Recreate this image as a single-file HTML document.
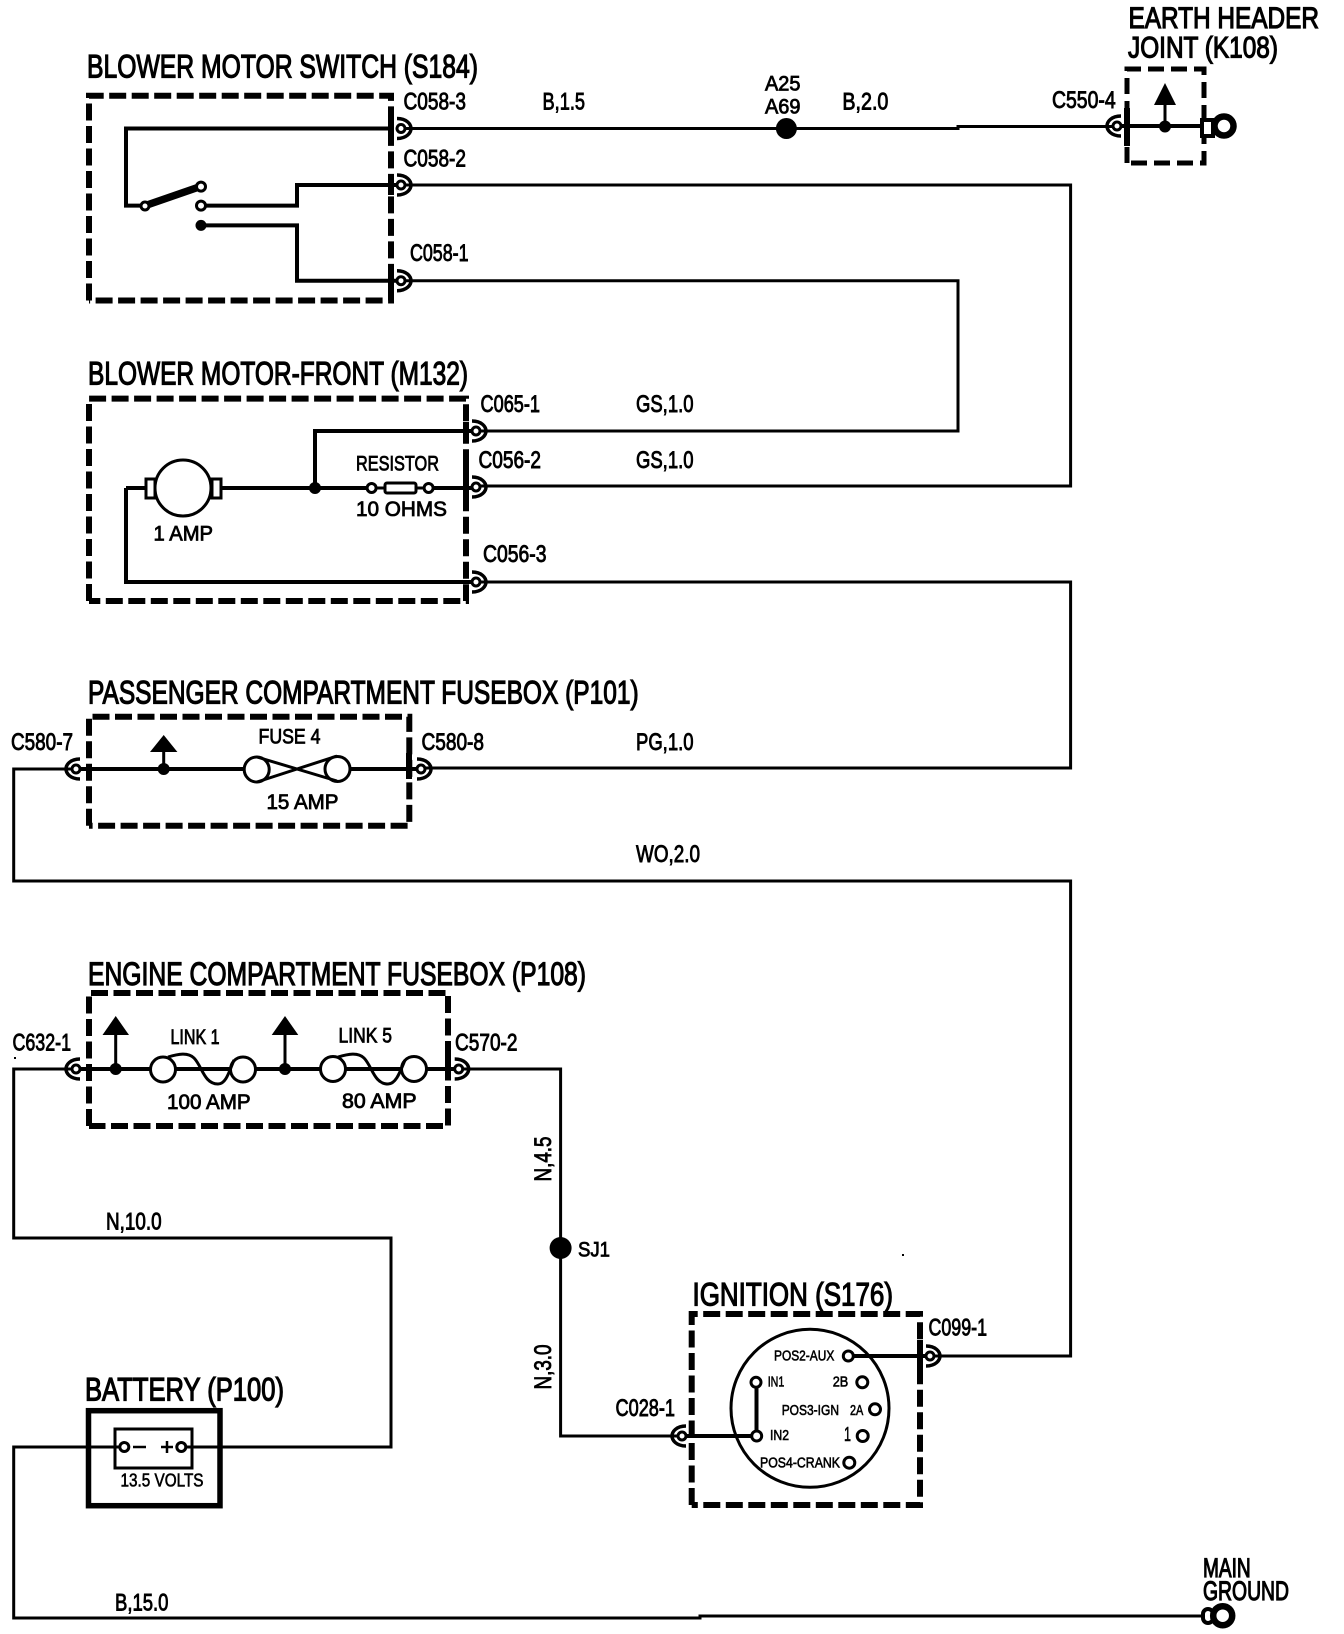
<!DOCTYPE html>
<html>
<head>
<meta charset="utf-8">
<title>Blower motor wiring diagram</title>
<style>
html,body{margin:0;padding:0;background:#fff}
svg{display:block}
text{font-family:"Liberation Sans",sans-serif;fill:#000;stroke:#000;stroke-width:.9;font-weight:normal}
.t{font-size:32px;stroke-width:1.2}
.l{font-size:24px}
.m{font-size:21px;stroke-width:.8}
.s{font-size:15px;stroke-width:.6}
.w{fill:none;stroke:#000;stroke-width:3}
.i{fill:none;stroke:#000;stroke-width:4}
.b{fill:none;stroke:#000;stroke-width:6;stroke-dasharray:17 5.5}
.o{fill:#fff;stroke:#000;stroke-width:3}
</style>
</head>
<body>
<svg width="1344" height="1634" viewBox="0 0 1344 1634" xmlns="http://www.w3.org/2000/svg">
<rect width="1344" height="1634" fill="#fff"/>
<defs>
<g id="cr"><path d="M-1 -10 C9 -10 13 -4 13 0 C13 4 9 10 -1 10" fill="none" stroke="#000" stroke-width="3.5"/><circle cx="3" cy="0" r="4" fill="#fff" stroke="#000" stroke-width="3"/></g>
<g id="cl"><path d="M1 -10 C-9 -10 -13 -4 -13 0 C-13 4 -9 10 1 10" fill="none" stroke="#000" stroke-width="3.5"/><circle cx="-3" cy="0" r="4" fill="#fff" stroke="#000" stroke-width="3"/></g>
</defs>

<!-- outer wires -->
<path class="w" d="M400 128.5H958V126.5H1118"/>
<path class="w" d="M400 185H1070.6V486H475"/>
<path class="w" d="M400 280.7H958V431H475"/>
<path class="w" d="M475 582H1070.6V768H420"/>
<path class="w" d="M77 769H13.7V881H1070.6V1356H929"/>
<path class="w" d="M77 1069H13.7V1238H391V1447H222"/>
<path class="w" d="M85 1447H13.7V1618H700V1616H1203"/>
<path class="w" d="M457 1069H560.6V1436H683"/>

<!-- S184 -->
<path class="b" d="M89 300.5V95.7H391V300.5H89"/>
<path class="i" d="M391 128.5H126V205.6H145"/>
<path class="i" d="M201 205.6H297V185H400"/>
<path class="i" d="M201 225.4H297V280.7H400"/>
<path d="M147 205L199 187" stroke="#000" stroke-width="7.5" fill="none"/>
<circle cx="145" cy="206" r="4" class="o"/>
<circle cx="201" cy="186.6" r="4.5" class="o"/>
<circle cx="201" cy="205.6" r="4.5" class="o"/>
<circle cx="201" cy="225.4" r="5.5" fill="#000"/>
<rect x="388" y="108" width="6" height="34" fill="#000"/>
<rect x="388" y="175" width="6" height="20" fill="#000"/>
<rect x="388" y="270" width="6" height="18" fill="#000"/>
<use href="#cr" x="398" y="128.5"/><use href="#cr" x="398" y="185"/><use href="#cr" x="398" y="280.7"/>
<text class="t" x="87" y="77.3" textLength="391" lengthAdjust="spacingAndGlyphs">BLOWER MOTOR SWITCH (S184)</text>
<text class="l" x="403.5" y="109.7" textLength="62.5" lengthAdjust="spacingAndGlyphs">C058-3</text>
<text class="l" x="542.5" y="109.7" textLength="42.5" lengthAdjust="spacingAndGlyphs">B,1.5</text>
<text class="l" x="403.5" y="166.3" textLength="62.5" lengthAdjust="spacingAndGlyphs">C058-2</text>
<text class="l" x="410" y="260.8" textLength="58.5" lengthAdjust="spacingAndGlyphs">C058-1</text>

<!-- junction A25 -->
<circle cx="786.4" cy="128.5" r="10.5" fill="#000"/>
<text class="m" x="765" y="90.7" textLength="35.5" lengthAdjust="spacingAndGlyphs">A25</text>
<text class="m" x="765" y="113.7" textLength="35.5" lengthAdjust="spacingAndGlyphs">A69</text>
<text class="l" x="842.4" y="109.7" textLength="46" lengthAdjust="spacingAndGlyphs">B,2.0</text>
<text class="l" x="1052" y="108" textLength="63.6" lengthAdjust="spacingAndGlyphs">C550-4</text>

<!-- K108 -->
<path class="b" style="stroke-width:5;stroke-dasharray:16 7" d="M1127 163V69H1204V163H1127"/>
<path class="w" style="stroke-width:4" d="M1118 126H1212"/>
<rect x="1124" y="108" width="6" height="38" fill="#000"/>
<use href="#cl" x="1120" y="126"/>
<circle cx="1165" cy="126.5" r="6" fill="#000"/>
<path class="w" d="M1165 126V100"/>
<path d="M1165 83L1176 105H1154Z" fill="#000"/>
<rect x="1202" y="120" width="11" height="16" fill="#fff" stroke="#000" stroke-width="4"/>
<circle cx="1224" cy="126" r="9.5" fill="#fff" stroke="#000" stroke-width="6.5"/>
<text class="t" style="font-size:30px" x="1128.5" y="28" textLength="190.5" lengthAdjust="spacingAndGlyphs">EARTH HEADER</text>
<text class="t" style="font-size:30px" x="1128" y="57.3" textLength="150" lengthAdjust="spacingAndGlyphs">JOINT (K108)</text>

<!-- M132 -->
<path class="b" d="M89 601V398.6H466V601H89"/>
<path class="i" d="M315 488V431H475"/>
<path class="i" d="M126 488V582H475"/>
<path class="i" d="M126 488H146M221 488H366M434 488H475"/>
<path class="w" d="M366 488H434"/>
<rect x="146" y="479" width="9" height="19" class="o"/>
<rect x="212" y="479" width="9" height="19" class="o"/>
<circle cx="183" cy="488" r="28" class="o"/>
<circle cx="315" cy="488" r="6" fill="#000"/>
<circle cx="371.6" cy="488" r="4.5" class="o"/>
<circle cx="428.6" cy="488" r="4.5" class="o"/>
<rect x="385" y="483" width="31" height="10" rx="2" class="o"/>
<rect x="463" y="422" width="6" height="18" fill="#000"/>
<rect x="463" y="455" width="6" height="42" fill="#000"/>
<use href="#cr" x="473" y="431"/><use href="#cr" x="473" y="487"/><use href="#cr" x="473" y="582"/>
<text class="t" x="88" y="384.5" textLength="380" lengthAdjust="spacingAndGlyphs">BLOWER MOTOR-FRONT (M132)</text>
<text class="l" x="480.5" y="412" textLength="59.5" lengthAdjust="spacingAndGlyphs">C065-1</text>
<text class="l" x="636" y="412" textLength="57.5" lengthAdjust="spacingAndGlyphs">GS,1.0</text>
<text class="l" x="478.5" y="468" textLength="62.5" lengthAdjust="spacingAndGlyphs">C056-2</text>
<text class="l" x="636" y="468" textLength="57.5" lengthAdjust="spacingAndGlyphs">GS,1.0</text>
<text class="l" x="483" y="562" textLength="63.5" lengthAdjust="spacingAndGlyphs">C056-3</text>
<text class="m" x="356" y="470.5" textLength="83" lengthAdjust="spacingAndGlyphs">RESISTOR</text>
<text class="m" x="356" y="516" textLength="91" lengthAdjust="spacingAndGlyphs">10 OHMS</text>
<text class="m" x="153.5" y="540.5" textLength="59.5" lengthAdjust="spacingAndGlyphs">1 AMP</text>

<!-- P101 -->
<path class="b" d="M89 825.7V716.7H409.3V825.7H89"/>
<path class="i" d="M77 769H243M351 769H420"/>
<path class="w" d="M163.7 769V745"/>
<path d="M163.7 735L177.4 752H150Z" fill="#000"/>
<circle cx="163.7" cy="769" r="6" fill="#000"/>
<circle cx="256.7" cy="769.5" r="12.5" class="o"/>
<circle cx="337.5" cy="769" r="12.5" class="o"/>
<path class="w" d="M257 757L337 781M257 782L337 756"/>
<rect x="406" y="753" width="6" height="26" fill="#000"/>
<use href="#cl" x="79" y="769"/><use href="#cr" x="418" y="769"/>
<text class="t" x="88" y="703.5" textLength="550.6" lengthAdjust="spacingAndGlyphs">PASSENGER COMPARTMENT FUSEBOX (P101)</text>
<text class="l" x="11" y="750" textLength="62" lengthAdjust="spacingAndGlyphs">C580-7</text>
<text class="l" x="421.5" y="750" textLength="62.5" lengthAdjust="spacingAndGlyphs">C580-8</text>
<text class="l" x="636" y="750" textLength="57.5" lengthAdjust="spacingAndGlyphs">PG,1.0</text>
<text class="m" x="258.5" y="743.3" textLength="62" lengthAdjust="spacingAndGlyphs">FUSE 4</text>
<text class="m" x="266.5" y="809" textLength="72" lengthAdjust="spacingAndGlyphs">15 AMP</text>
<text class="l" x="636" y="862" textLength="64" lengthAdjust="spacingAndGlyphs">WO,2.0</text>

<!-- P108 -->
<path class="b" d="M89 1126V993H448V1126H89"/>
<path class="i" d="M77 1069H457"/>
<path class="w" d="M115.7 1069V1030M285 1069V1030"/>
<path d="M115.7 1016L129 1035H102.5Z" fill="#000"/>
<path d="M285 1016L298.3 1035H271.7Z" fill="#000"/>
<circle cx="115.7" cy="1069" r="6" fill="#000"/>
<circle cx="285" cy="1069" r="6" fill="#000"/>
<circle cx="163" cy="1069.5" r="12.5" class="o"/>
<circle cx="243" cy="1069.5" r="12.5" class="o"/>
<circle cx="333" cy="1069" r="12.5" class="o"/>
<circle cx="414" cy="1069" r="12.5" class="o"/>
<path class="w" d="M168 1057C178 1054 188 1052 194 1058C202 1066 204 1084 218 1084C226 1084 229 1072 234 1060"/>
<path class="w" d="M338 1057C348 1054 358 1052 364 1058C372 1066 374 1084 388 1084C396 1084 400 1072 405 1060"/>
<use href="#cl" x="79" y="1069"/><use href="#cr" x="455.7" y="1069"/>
<rect x="445" y="1058" width="6" height="22" fill="#000"/>
<text class="t" x="88" y="985" textLength="498" lengthAdjust="spacingAndGlyphs">ENGINE COMPARTMENT FUSEBOX (P108)</text>
<text class="l" x="12.5" y="1050.7" textLength="58.5" lengthAdjust="spacingAndGlyphs">C632-1</text>
<text class="l" x="455" y="1050.7" textLength="62.5" lengthAdjust="spacingAndGlyphs">C570-2</text>
<text class="m" x="170.5" y="1044" textLength="49" lengthAdjust="spacingAndGlyphs">LINK 1</text>
<text class="m" x="338.5" y="1042.3" textLength="53.5" lengthAdjust="spacingAndGlyphs">LINK 5</text>
<text class="m" x="167" y="1109" textLength="83.7" lengthAdjust="spacingAndGlyphs">100 AMP</text>
<text class="m" x="342" y="1108" textLength="74.6" lengthAdjust="spacingAndGlyphs">80 AMP</text>

<!-- N labels -->
<text class="l" x="106" y="1229.7" textLength="55.6" lengthAdjust="spacingAndGlyphs">N,10.0</text>
<text class="l" transform="translate(551 1181.5) rotate(-90)" textLength="45" lengthAdjust="spacingAndGlyphs">N,4.5</text>
<text class="l" transform="translate(551 1389.5) rotate(-90)" textLength="45" lengthAdjust="spacingAndGlyphs">N,3.0</text>
<ellipse cx="560.6" cy="1248" rx="11" ry="11" fill="#000"/>
<text class="m" x="578" y="1256.7" textLength="32" lengthAdjust="spacingAndGlyphs">SJ1</text>
<text class="l" x="615.5" y="1416" textLength="59.5" lengthAdjust="spacingAndGlyphs">C028-1</text>

<!-- Battery -->
<rect x="88.5" y="1410.7" width="131.5" height="95" fill="#fff" stroke="#000" stroke-width="5.5"/>
<path class="w" d="M85 1447H222"/>
<rect x="115" y="1429" width="77" height="39" fill="#fff" stroke="#000" stroke-width="3"/>
<path class="w" d="M115 1447H120M186 1447H192"/>
<circle cx="124.3" cy="1447" r="4.5" class="o"/>
<circle cx="181.3" cy="1447" r="4.5" class="o"/>
<path class="w" style="stroke-width:2.5" d="M133 1447H146M161 1447H173M167 1441V1453"/>
<text class="t" x="85" y="1400.7" textLength="199" lengthAdjust="spacingAndGlyphs">BATTERY (P100)</text>
<text class="s" style="font-size:18px" x="120.5" y="1486.5" textLength="83" lengthAdjust="spacingAndGlyphs">13.5 VOLTS</text>
<text class="l" x="115" y="1610.7" textLength="53.4" lengthAdjust="spacingAndGlyphs">B,15.0</text>

<!-- Ignition -->
<path class="b" d="M691.7 1505V1314H920V1505H691.7"/>
<circle cx="810" cy="1408.3" r="79" fill="none" stroke="#000" stroke-width="3"/>
<path class="i" d="M683 1436H757"/>
<path class="i" d="M756.5 1382V1436"/>
<path class="i" d="M848 1356H929"/>
<rect x="917" y="1340" width="6" height="30" fill="#000"/>
<use href="#cl" x="685" y="1436"/><use href="#cr" x="927" y="1356"/>
<circle cx="848.3" cy="1356" r="5" class="o"/>
<circle cx="756" cy="1382.3" r="5" class="o"/>
<circle cx="756.7" cy="1436" r="5" class="o"/>
<circle cx="862.3" cy="1382.3" r="5.5" class="o"/>
<circle cx="875" cy="1409.3" r="5.5" class="o"/>
<circle cx="862.7" cy="1436" r="5.5" class="o"/>
<circle cx="849.3" cy="1462.7" r="5.5" class="o"/>
<text class="s" x="774" y="1360.7" textLength="60.3" lengthAdjust="spacingAndGlyphs">POS2-AUX</text>
<text class="s" x="767.7" y="1386.7" textLength="16.6" lengthAdjust="spacingAndGlyphs">IN1</text>
<text class="s" x="832.7" y="1386.7" textLength="15.6" lengthAdjust="spacingAndGlyphs">2B</text>
<text class="s" x="781.7" y="1415" textLength="57.3" lengthAdjust="spacingAndGlyphs">POS3-IGN</text>
<text class="s" x="850" y="1415" textLength="13.3" lengthAdjust="spacingAndGlyphs">2A</text>
<text class="s" x="770" y="1440" textLength="19" lengthAdjust="spacingAndGlyphs">IN2</text>
<text class="s" style="font-size:20px" x="844" y="1441" textLength="7" lengthAdjust="spacingAndGlyphs">1</text>
<text class="s" x="760" y="1467.3" textLength="80" lengthAdjust="spacingAndGlyphs">POS4-CRANK</text>
<text class="t" x="692.5" y="1305.7" textLength="200.5" lengthAdjust="spacingAndGlyphs">IGNITION (S176)</text>
<text class="l" x="928.5" y="1335.5" textLength="58.5" lengthAdjust="spacingAndGlyphs">C099-1</text>

<!-- Main ground -->
<rect x="1203" y="1609" width="10" height="14" rx="5" fill="#fff" stroke="#000" stroke-width="4"/>
<circle cx="1222.7" cy="1615.7" r="9.5" fill="#fff" stroke="#000" stroke-width="6.5"/>
<text class="t" style="font-size:27px" x="1203" y="1577" textLength="47.7" lengthAdjust="spacingAndGlyphs">MAIN</text>
<text class="t" style="font-size:27px" x="1203" y="1600" textLength="86" lengthAdjust="spacingAndGlyphs">GROUND</text>

<!-- specks -->
<rect x="14" y="1057" width="2" height="2" fill="#000"/>
<rect x="902" y="1254" width="2" height="2" fill="#000"/>
</svg>
</body>
</html>
